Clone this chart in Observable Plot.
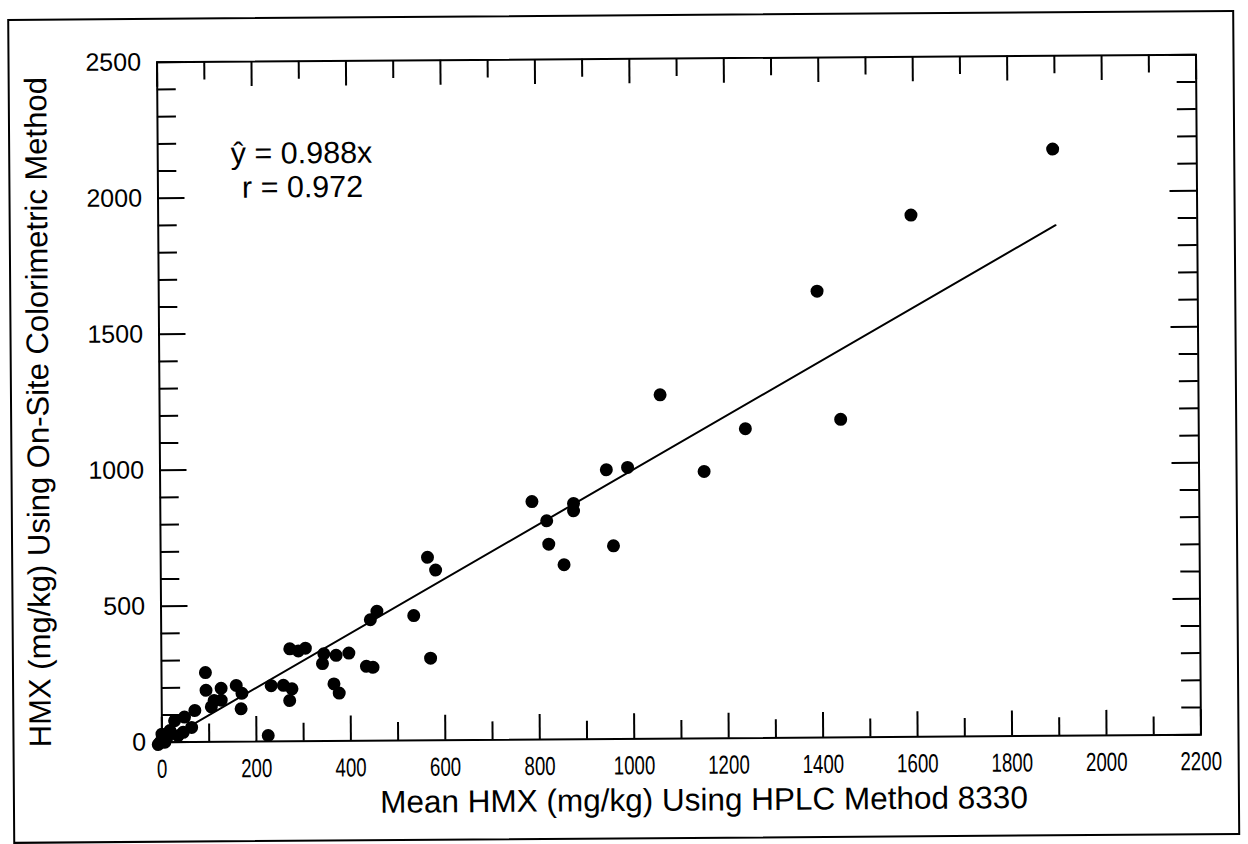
<!DOCTYPE html>
<html><head><meta charset="utf-8">
<script src="https://cdn.jsdelivr.net/npm/d3@7"></script>
<script src="https://cdn.jsdelivr.net/npm/@observablehq/plot@0.6"></script>
<style>
html,body{margin:0;padding:0;background:#fff;width:1248px;height:844px;overflow:hidden;}
#page{position:absolute;left:0;top:0;width:1248px;height:844px;transform:rotate(-0.42deg);transform-origin:678px 398px;}
#border{position:absolute;left:10px;top:14px;width:1223px;height:821px;border:2px solid #000;}
#chart{position:absolute;left:0;top:0;}
</style></head><body>
<div id="page"><div id="border"></div><div id="chart"></div></div>
<script>
// Mean HMX (mg/kg) by HPLC Method 8330
const hplc = [1895,1594,1394,1060,1442,1240,1152,945,990,787,818,875,875,822,854,959,565,582,457,443,535,344,341,370,397,434,448,570,365,376,272,290,305,258,276,271,232,168,158,225,170,
  93,94,126,111,126,70,105,48,27,17,0,-4,45,63,34,6,-8,10];
// HMX (mg/kg) by on-site colorimetric method
const colorimetric = [2157,1918,1641,1264,1169,1137,981,990,998,875,804,867,840,718,642,710,673,626,476,445,459,321,285,315,323,274,270,302,210,176,340,332,342,206,193,150,205,121,207,22,178,
  255,190,197,152,153,116,129,92,79,43,30,0,36,54,24,0,-8,15];
// regression line endpoints (y-hat = 0.988x)
const fitX = [0, 1900];
const fitY = [0, 1877];
const xMajor = [0,200,400,600,800,1000,1200,1400,1600,1800,2000,2200];
const xMinor = [100,300,500,700,900,1100,1300,1500,1700,1900,2100];
const yMajor = [0,500,1000,1500,2000,2500];
const yMinor = [100,200,300,400,600,700,800,900,1100,1200,1300,1400,1600,1700,1800,1900,2100,2200,2300,2400];
const equation = ["\u0177 = 0.988x"];
const corr = ["r = 0.972"];
const xTitle = ["Mean HMX (mg/kg) Using HPLC Method 8330"];
const yTitle = ["HMX (mg/kg) Using On-Site Colorimetric Method"];

const pts = hplc.map((x, i) => ({x, y: colorimetric[i]}));
const fit = fitX.map((x, i) => ({x, y: fitY[i]}));

const W = 1248, H = 844, mL = 159, mR = 50, mT = 58, mB = 106;
const fw = W - mL - mR, fh = H - mT - mB;

const chart = Plot.plot({
  width: W, height: H,
  marginLeft: mL, marginRight: mR, marginTop: mT, marginBottom: mB,
  x: {domain: [0, 2200]},
  y: {domain: [0, 2500]},
  style: {fontFamily: "'Liberation Sans', Arial, sans-serif", color: "#000", background: "transparent"},
  marks: [
    Plot.axisY({ticks: yMajor, tickSize: 0, tickPadding: 16, tickFormat: "d", fontSize: 25, label: null}),
    Plot.axisX({ticks: xMajor, tickSize: 0, tickPadding: 17, tickFormat: "d", fontSize: 26, label: null}),
    // inward ticks, bottom & top
    Plot.tickX(xMajor, {x: d => d, insetTop: fh - 25, strokeWidth: 2}),
    Plot.tickX(xMinor, {x: d => d, insetTop: fh - 18, strokeWidth: 2}),
    Plot.tickX(xMajor, {x: d => d, insetBottom: fh - 25, strokeWidth: 2}),
    Plot.tickX(xMinor, {x: d => d, insetBottom: fh - 18, strokeWidth: 2}),
    // inward ticks, left & right
    Plot.tickY(yMajor, {y: d => d, insetRight: fw - 27, strokeWidth: 2}),
    Plot.tickY(yMinor, {y: d => d, insetRight: fw - 19, strokeWidth: 2}),
    Plot.tickY(yMajor, {y: d => d, insetLeft: fw - 27, strokeWidth: 2}),
    Plot.tickY(yMinor, {y: d => d, insetLeft: fw - 19, strokeWidth: 2}),
    Plot.frame({stroke: "#000", strokeWidth: 2}),
    Plot.line(fit, {x: "x", y: "y", stroke: "#000", strokeWidth: 2}),
    Plot.dot(pts, {x: "x", y: "y", r: 6.5, fill: "#000", stroke: null}),
    Plot.text(equation, {text: d => d, frameAnchor: "top-left", dx: 73, dy: 102, textAnchor: "start", lineAnchor: "bottom", fontSize: 30.5}),
    Plot.text(corr, {text: d => d, frameAnchor: "top-left", dx: 84, dy: 136, textAnchor: "start", lineAnchor: "bottom", fontSize: 30.5}),
    Plot.text(xTitle, {text: d => d, frameAnchor: "bottom", dx: 22, dy: 62, textAnchor: "middle", lineAnchor: "middle", fontSize: 31.5}),
    Plot.text(yTitle, {text: d => d, frameAnchor: "left", dx: -121, dy: 9, rotate: -90, textAnchor: "middle", lineAnchor: "middle", fontSize: 31})
  ]
});
document.getElementById("chart").appendChild(chart);
// condense the x tick labels, as in the reference's narrow face
d3.select(chart).selectAll('g[aria-label="x-axis tick label"] text').each(function() {
  const len = this.getComputedTextLength();
  this.setAttribute("textLength", (len * 0.72).toFixed(1));
  this.setAttribute("lengthAdjust", "spacingAndGlyphs");
});
</script></body></html>
